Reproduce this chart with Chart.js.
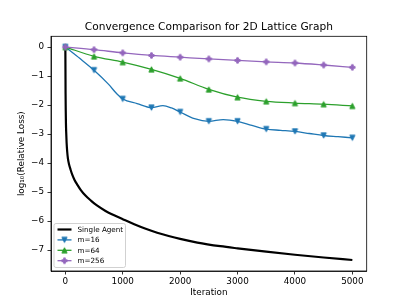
<!DOCTYPE html>
<html><head><meta charset="utf-8">
<script src="https://cdn.jsdelivr.net/npm/chart.js@4"></script>
<style>html,body{margin:0;padding:0;background:#fff;overflow:hidden;}</style>
</head><body>
<canvas id="c" width="407" height="305"></canvas>
<script>
// ---- data ----
const titleText = 'Convergence Comparison for 2D Lattice Graph';
const xLabel = 'Iteration';
const yLabel = 'log\u2081\u2080(Relative Loss)';
const xTicks = [0, 1000, 2000, 3000, 4000, 5000];
const yTicks = [-7, -6, -5, -4, -3, -2, -1, 0];
const seriesNames = ['Single Agent', 'm=16', 'm=64', 'm=256'];

const singleIter = [0, 2, 4, 7, 10, 15, 22, 32, 45, 65, 90, 120, 160, 210, 270, 350, 450, 550, 700, 850, 1000, 1200, 1400, 1600, 1800, 2000, 2300, 2700, 3000, 3500, 4000, 4500, 5000];
const singleLoss = [0, -0.8, -1.6, -2.2, -2.6, -2.95, -3.3, -3.6, -3.85, -4.05, -4.22, -4.4, -4.58, -4.75, -4.93, -5.12, -5.3, -5.46, -5.65, -5.8, -5.935, -6.11, -6.265, -6.4, -6.515, -6.615, -6.74, -6.865, -6.94, -7.055, -7.16, -7.255, -7.34];

const m16Iter = [0, 250, 500, 750, 900, 1000, 1250, 1500, 1700, 1850, 2000, 2250, 2500, 2750, 3000, 3250, 3500, 3750, 4000, 4250, 4500, 4750, 5000];
const m16Loss = [0, -0.39, -0.80, -1.28, -1.62, -1.79, -1.95, -2.09, -2.02, -2.10, -2.24, -2.47, -2.56, -2.50, -2.56, -2.70, -2.83, -2.87, -2.91, -2.98, -3.05, -3.09, -3.13];

const markerIter = [0, 500, 1000, 1500, 2000, 2500, 3000, 3500, 4000, 4500, 5000];
const m64Loss = [0, -0.32, -0.52, -0.77, -1.08, -1.46, -1.73, -1.87, -1.93, -1.97, -2.03];
const m256Loss = [0, -0.09, -0.20, -0.29, -0.35, -0.41, -0.46, -0.51, -0.55, -0.62, -0.70];

const markEvery = 500;

// ---- helpers ----
const pts = (xs, ys) => xs.map((x, i) => ({x: x, y: ys[i]}));

function makeMarker(shape, color) {
  const s = 9, c = document.createElement('canvas');
  c.width = s; c.height = s;
  const g = c.getContext('2d');
  const h = 2.65, m = s / 2;
  g.fillStyle = color; g.strokeStyle = color; g.lineWidth = 0.9; g.lineJoin = 'miter';
  g.beginPath();
  if (shape === 'down') {
    g.moveTo(m - h, m - h); g.lineTo(m + h, m - h); g.lineTo(m, m + h);
  } else if (shape === 'up') {
    g.moveTo(m - h, m + h); g.lineTo(m + h, m + h); g.lineTo(m, m - h);
  } else {
    const a = h / 3;
    const p = [[-a,-h],[a,-h],[a,-a],[h,-a],[h,a],[a,a],[a,h],[-a,h],[-a,a],[-h,a],[-h,-a],[-a,-a]];
    p.forEach((q, i) => i ? g.lineTo(m + q[0], m + q[1]) : g.moveTo(m + q[0], m + q[1]));
  }
  g.closePath(); g.fill(); g.stroke();
  return c;
}

const C_BLUE = '#1f77b4', C_GREEN = '#2ca02c', C_PURPLE = '#9467bd';
const mkDown = makeMarker('down', C_BLUE);
const mkUp = makeMarker('up', C_GREEN);
const mkPlus = makeMarker('plus', C_PURPLE);

const markerRadius = ctx => (ctx.raw && ctx.raw.x % markEvery === 0) ? 3 : 0;

const FONT = 'DejaVu Sans';

const framePlugin = {
  id: 'frame',
  afterDatasetsDraw(chart) {
    const {ctx, chartArea: a} = chart;
    ctx.save();
    ctx.strokeStyle = '#000'; ctx.lineWidth = 0.8;
    ctx.strokeRect(a.left, a.top, a.right - a.left, a.bottom - a.top);
    // title centred over the plot area
    ctx.fillStyle = '#000';
    ctx.font = '10.6px "' + FONT + '"';
    ctx.textAlign = 'center'; ctx.textBaseline = 'middle';
    ctx.fillText(titleText, (a.left + a.right) / 2, 27.7);
    // legend (lower left, inside axes)
    const ds = chart.data.datasets;
    const bx = a.left + 3, by = a.bottom - 47.5, bw = 71.5, bh = 44;
    ctx.fillStyle = 'rgba(255,255,255,0.8)';
    ctx.strokeStyle = '#cccccc'; ctx.lineWidth = 0.9;
    const r = 2;
    ctx.beginPath();
    ctx.moveTo(bx + r, by); ctx.lineTo(bx + bw - r, by); ctx.quadraticCurveTo(bx + bw, by, bx + bw, by + r);
    ctx.lineTo(bx + bw, by + bh - r); ctx.quadraticCurveTo(bx + bw, by + bh, bx + bw - r, by + bh);
    ctx.lineTo(bx + r, by + bh); ctx.quadraticCurveTo(bx, by + bh, bx, by + bh - r);
    ctx.lineTo(bx, by + r); ctx.quadraticCurveTo(bx, by, bx + r, by);
    ctx.closePath(); ctx.fill(); ctx.stroke();
    ctx.font = '7.2px "' + FONT + '"';
    ctx.textBaseline = 'middle'; ctx.textAlign = 'left';
    ds.forEach((d, i) => {
      const y = by + 6 + i * 10.4;
      ctx.strokeStyle = d.borderColor; ctx.lineWidth = d.borderWidth;
      ctx.beginPath(); ctx.moveTo(bx + 3.5, y); ctx.lineTo(bx + 17.5, y); ctx.stroke();
      if (d.legendMarker) ctx.drawImage(d.legendMarker, bx + 10.5 - 4.5, y - 4.5);
      ctx.fillStyle = '#000';
      ctx.fillText(d.label, bx + 23.5, y + 0.5);
    });
    ctx.restore();
  }
};

new Chart(document.getElementById('c'), {
  type: 'line',
  data: {
    datasets: [
      {label: seriesNames[0], data: pts(singleIter, singleLoss), borderColor: '#000', borderWidth: 2.2,
       pointRadius: 0, cubicInterpolationMode: 'monotone', order: 4},
      {label: seriesNames[1], data: pts(m16Iter, m16Loss), borderColor: C_BLUE, borderWidth: 1.3,
       pointStyle: mkDown, pointRadius: markerRadius, legendMarker: mkDown, cubicInterpolationMode: 'monotone', order: 3},
      {label: seriesNames[2], data: pts(markerIter, m64Loss), borderColor: C_GREEN, borderWidth: 1.3,
       pointStyle: mkUp, pointRadius: 3, legendMarker: mkUp, cubicInterpolationMode: 'monotone', order: 2},
      {label: seriesNames[3], data: pts(markerIter, m256Loss), borderColor: C_PURPLE, borderWidth: 1.3,
       pointStyle: mkPlus, pointRadius: 3, legendMarker: mkPlus, cubicInterpolationMode: 'monotone', order: 1}
    ]
  },
  options: {
    responsive: false, animation: false, devicePixelRatio: 1,
    layout: {padding: {left: 0, right: 40.3, top: 36.3, bottom: 0}},
    plugins: {
      legend: {display: false}, tooltip: {enabled: false}, title: {display: false}
    },
    scales: {
      x: {
        type: 'linear', min: -250, max: 5250,
        afterBuildTicks: s => { s.ticks = xTicks.map(v => ({value: v})); },
        afterFit: s => { s.height = 34; },
        grid: {display: true, drawOnChartArea: false, drawTicks: true, tickLength: 3.5, color: '#000', lineWidth: 0.8},
        border: {display: true, color: '#000', width: 0.8},
        ticks: {color: '#000', font: {family: FONT, size: 8.8}, padding: 2, maxRotation: 0, autoSkip: false,
          callback: v => String(v)},
        title: {display: true, text: xLabel, color: '#000', font: {family: FONT, size: 8.8}, padding: {top: 0, bottom: 7}}
      },
      y: {
        type: 'linear', min: -7.72, max: 0.37,
        afterBuildTicks: s => { s.ticks = yTicks.map(v => ({value: v})); },
        afterFit: s => { s.width = 51; },
        grid: {display: true, drawOnChartArea: false, drawTicks: true, tickLength: 3.5, color: '#000', lineWidth: 0.8},
        border: {display: true, color: '#000', width: 0.8},
        ticks: {color: '#000', font: {family: FONT, size: 8.8}, padding: 3.5, autoSkip: false,
          callback: v => (v < 0 ? '\u2212' + Math.abs(v) : String(v))},
        title: {display: true, text: yLabel, color: '#000', font: {family: FONT, size: 8.8}, padding: {top: 16.4, bottom: 0}}
      }
    }
  },
  plugins: [framePlugin]
});
</script>
</body></html>
